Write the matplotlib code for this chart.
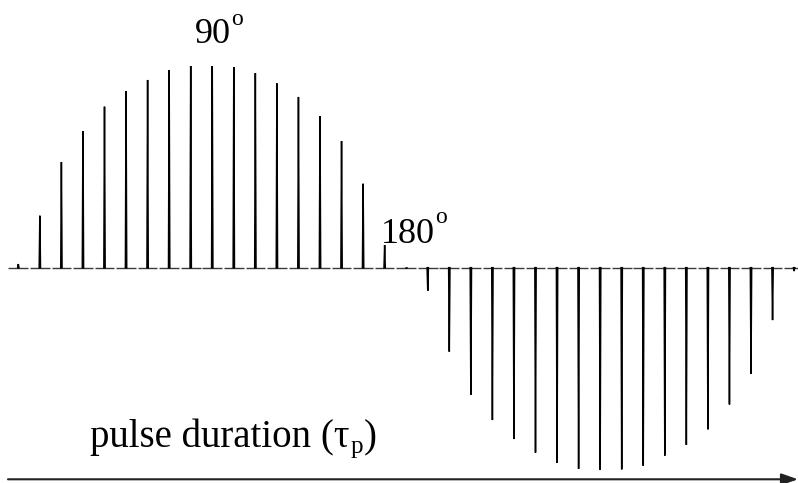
import matplotlib
matplotlib.use("Agg")
import matplotlib.pyplot as plt

# Nutation series: one spectrum per pulse-duration increment.
# Peak intensity of each spectrum (percent of the maximum).
pulse_index = list(range(37))
peak_intensity = [
    1.8, 25.7, 52.2, 67.4, 79.6, 87.3, 92.8, 97.7, 99.7, 99.7,
    99.2, 96.2, 91.1, 84.4, 75.0, 62.6, 41.5, 11.2, 0.0,
    -11.4, -41.5, -62.8, -75.3, -84.7, -91.4, -96.4, -99.4, -100.0,
    -99.7, -97.9, -92.9, -87.6, -79.9, -67.6, -52.4, -25.9, -1.7,
]
flip_labels = ["90", "180"]
axis_label = "pulse duration (\u03c4"
tau_sub = "p"

W, H = 798, 483
fig = plt.figure(figsize=(W / 100, H / 100), dpi=100)
ax = fig.add_axes([0, 0, 1, 1])
ax.set_axis_off()

step_px = 21.55
x0_px = 18.3
base_px = 215.3          # baseline height above the bottom edge
scale_px = 2.023         # pixels per percent
ax.set_xlim(-x0_px / step_px, (W - x0_px) / step_px)
ax.set_ylim(-base_px / scale_px, (H - base_px) / scale_px)

half = 0.455     # half-width of each spectrum window
pw = 0.03        # half-width of the peak
for i, a in zip(pulse_index, peak_intensity):
    ax.plot([i - half, i + half], [0, 0], color="#3a3a3a", lw=1.0,
            solid_capstyle="butt")
    ax.plot([i - pw, i, i + pw], [0, a, 0], color="black", lw=1.1,
            solid_joinstyle="miter")

serif = "Liberation Serif"
renderer = fig.canvas.get_renderer()


def put(s, x, y_top, size):
    t = fig.text(x / W, 1 - y_top / H, s, fontsize=size, family=serif,
                 ha="left", va="baseline", transform=fig.transFigure)
    return t


def right_edge(t):
    return t.get_window_extent(renderer).x1


# flip-angle labels with superscript degree mark
t = put(flip_labels[0], 195, 43, 26)
put("o", right_edge(t), 25, 17)
t = put(flip_labels[1], 381, 243, 26)
put("o", right_edge(t), 223, 17)

# axis caption with subscripted tau
t = put(axis_label, 90, 447, 28)
t = put(tau_sub, right_edge(t) + 1, 453, 18)
put(")", right_edge(t) + 1, 447, 28)

# pulse-duration arrow along the bottom
ax.annotate("", xy=(1.0, 3.7 / H), xytext=(8 / W, 3.7 / H),
            xycoords="axes fraction", textcoords="axes fraction",
            arrowprops=dict(arrowstyle="-|>,head_length=1.0,head_width=0.35",
                            color="#222222", lw=1.5, shrinkA=0, shrinkB=0))

fig.savefig("out.png", dpi=100)
